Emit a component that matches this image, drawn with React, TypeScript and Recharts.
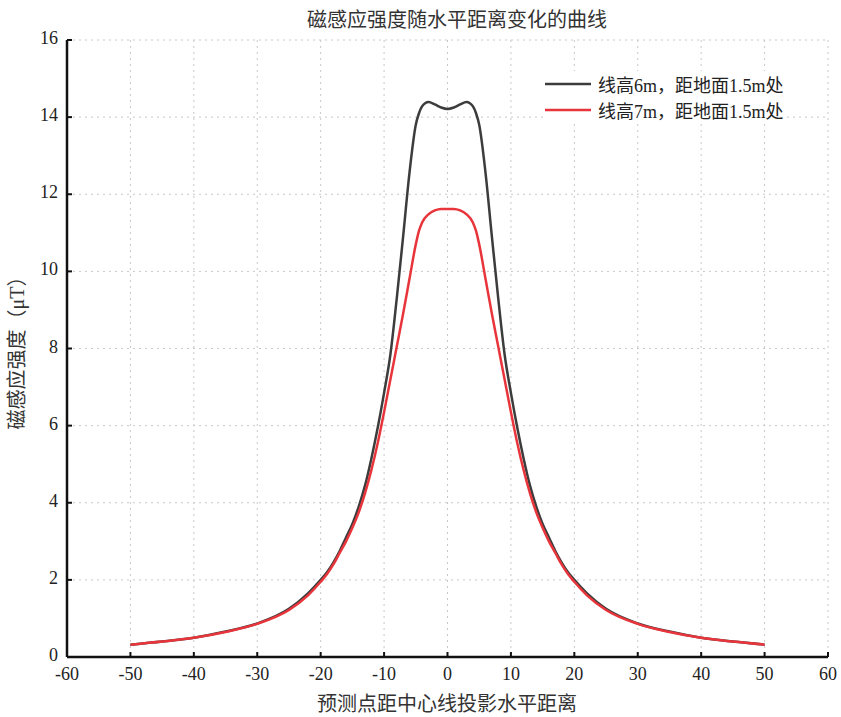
import { CartesianGrid, Line, LineChart, XAxis, YAxis } from 'recharts';

const FONT = '"Liberation Serif", "Times New Roman", "DejaVu Serif", "Noto Sans CJK SC", serif';

const title = '磁感应强度随水平距离变化的曲线';
const xLabel = '预测点距中心线投影水平距离';
const yLabel = '磁感应强度（μT）';
const seriesNames = ['线高6m，距地面1.5m处', '线高7m，距地面1.5m处'];
const seriesColors = ['#3c3c3c', '#e8353b'];

const xTicks = [-60, -50, -40, -30, -20, -10, 0, 10, 20, 30, 40, 50, 60];
const yTicks = [0, 2, 4, 6, 8, 10, 12, 14, 16];

// horizontal distance (m)
const xs = [
  -50, -45, -40, -35, -30, -25, -22, -20, -19, -18, -17, -16, -15, -14, -13, -12, -11, -10, -9, -8, -7, -6, -5,
  -4.5, -4, -3, -2, -1, 0, 1, 2, 3, 4, 4.5, 5, 6, 7, 8, 9, 10, 11, 12, 13, 14, 15, 16, 17, 18, 19, 20, 22, 25,
  30, 35, 40, 45, 50,
];

// line height 6m
const line6m = [
  0.32, 0.4, 0.5, 0.66, 0.87, 1.25, 1.65, 2.0, 2.2, 2.45, 2.75, 3.1, 3.45, 3.9, 4.45, 5.15, 5.95, 6.85, 7.85, 9.3,
  10.9, 12.55, 13.8, 14.1, 14.28, 14.39, 14.33, 14.25, 14.21, 14.25, 14.33, 14.39, 14.28, 14.1, 13.8, 12.55, 10.9,
  9.3, 7.85, 6.85, 5.95, 5.15, 4.45, 3.9, 3.45, 3.1, 2.75, 2.45, 2.2, 2.0, 1.65, 1.25, 0.87, 0.66, 0.5, 0.4, 0.32,
];

// line height 7m
const line7m = [
  0.32, 0.4, 0.5, 0.65, 0.86, 1.22, 1.6, 1.95, 2.15, 2.4, 2.7, 3.0, 3.35, 3.75, 4.25, 4.85, 5.55, 6.35, 7.2, 8.05,
  8.9, 9.8, 10.7, 11.05, 11.27, 11.48, 11.58, 11.62, 11.62, 11.62, 11.58, 11.48, 11.27, 11.05, 10.7, 9.8, 8.9, 8.05,
  7.2, 6.35, 5.55, 4.85, 4.25, 3.75, 3.35, 3.0, 2.7, 2.4, 2.15, 1.95, 1.6, 1.22, 0.86, 0.65, 0.5, 0.4, 0.32,
];

const data = xs.map((x, i) => ({ x, a: line6m[i], b: line7m[i] }));

function XTick(props: any) {
  const { x, y, payload } = props;
  return (
    <g>
      <line x1={x} y1={y} x2={x} y2={y - 5} stroke="#111" strokeWidth={2} />
      <text x={x} y={y + 23} textAnchor="middle" fill="#222" style={{ fontFamily: FONT, fontSize: 18 }}>
        {payload.value}
      </text>
    </g>
  );
}

function YTick(props: any) {
  const { y, payload } = props;
  const x = 67;
  return (
    <g>
      <line x1={x} y1={y} x2={x + 5} y2={y} stroke="#111" strokeWidth={2} />
      <text x={x - 9} y={y + 4} textAnchor="end" fill="#222" style={{ fontFamily: FONT, fontSize: 18 }}>
        {payload.value}
      </text>
    </g>
  );
}

export default function App() {
  return (
    <div style={{ position: 'absolute', left: 0, top: 0, width: 841, height: 717, background: '#fff' }}>
      <LineChart width={841} height={717} data={data} margin={{ top: 40, right: 13, bottom: 0, left: 0 }}>
        <text x={457} y={27} textAnchor="middle" fill="#333" style={{ fontFamily: FONT, fontSize: 20 }}>
          {title}
        </text>
        <text
          x={24}
          y={348}
          textAnchor="middle"
          fill="#333"
          transform="rotate(-90 24 348)"
          style={{ fontFamily: FONT, fontSize: 20 }}
        >
          {yLabel}
        </text>
        <text x={447} y={711} textAnchor="middle" fill="#333" style={{ fontFamily: FONT, fontSize: 20 }}>
          {xLabel}
        </text>
        <CartesianGrid stroke="#c8c8c8" strokeDasharray="2 4" />
        <XAxis
          dataKey="x"
          type="number"
          domain={[-60, 60]}
          ticks={xTicks}
          interval={0}
          height={60}
          tickSize={0}
          tickMargin={0}
          tickLine={false}
          tick={<XTick />}
          axisLine={{ stroke: '#111', strokeWidth: 2.5 }}
          allowDataOverflow
        />
        <XAxis
          xAxisId="top"
          orientation="top"
          dataKey="x"
          type="number"
          domain={[-60, 60]}
          height={0}
          tick={false}
          tickLine={false}
          axisLine={{ stroke: '#111', strokeWidth: 2.5 }}
        />
        <YAxis
          type="number"
          domain={[0, 16]}
          ticks={yTicks}
          interval={0}
          width={67}
          tickSize={0}
          tickMargin={0}
          tickLine={false}
          tick={<YTick />}
          axisLine={{ stroke: '#111', strokeWidth: 2.5 }}
        />
        <YAxis
          yAxisId="right"
          orientation="right"
          type="number"
          domain={[0, 16]}
          width={0}
          tick={false}
          tickLine={false}
          axisLine={{ stroke: '#111', strokeWidth: 2.5 }}
        />
        <Line
          name={seriesNames[0]}
          dataKey="a"
          type="monotone"
          stroke={seriesColors[0]}
          strokeWidth={2.5}
          dot={false}
          isAnimationActive={false}
        />
        <Line
          name={seriesNames[1]}
          dataKey="b"
          type="monotone"
          stroke={seriesColors[1]}
          strokeWidth={2.5}
          dot={false}
          isAnimationActive={false}
        />
      </LineChart>
      <div
        style={{
          position: 'absolute',
          left: 545,
          top: 71,
          fontFamily: FONT,
          fontSize: 18,
          color: '#222',
          background: '#fff',
        }}
      >
        {seriesNames.map((name, i) => (
          <div key={name} style={{ display: 'flex', alignItems: 'center', height: 26 }}>
            <svg width={53} height={10}>
              <line x1={0} y1={5} x2={46} y2={5} stroke={seriesColors[i]} strokeWidth={2.5} />
            </svg>
            <span>{name}</span>
          </div>
        ))}
      </div>
    </div>
  );
}
